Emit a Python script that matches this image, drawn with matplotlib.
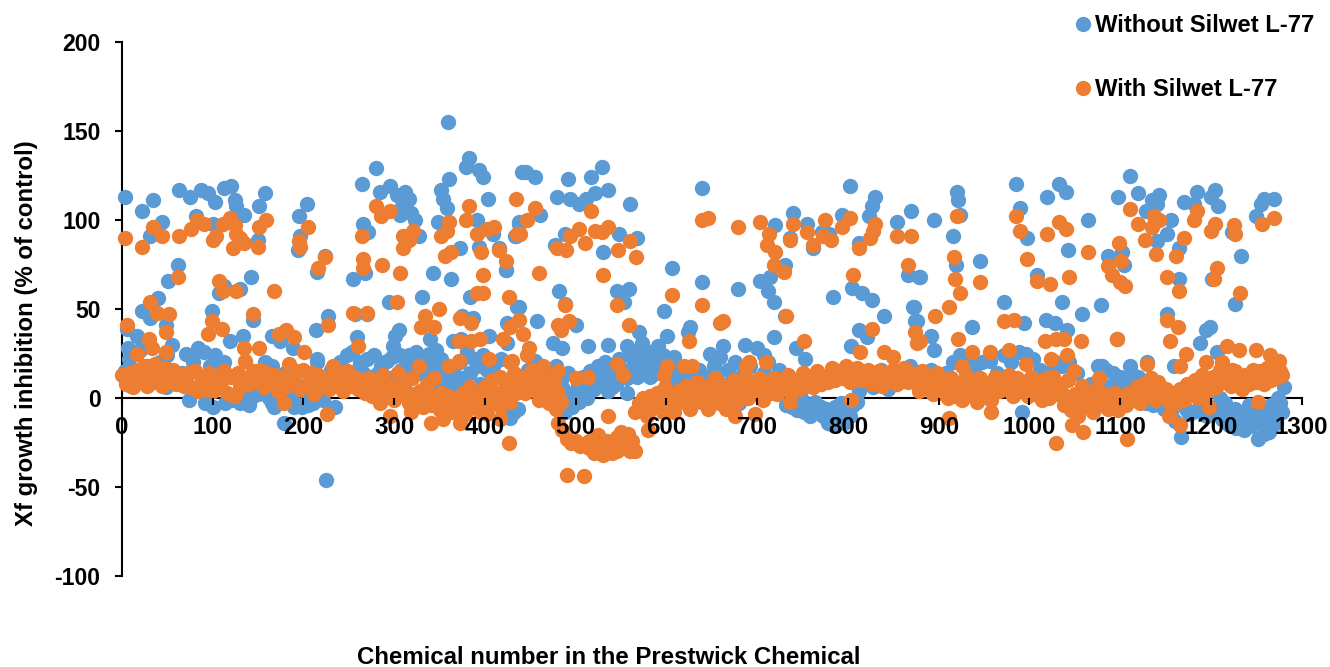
import matplotlib
matplotlib.use("Agg")
import matplotlib.pyplot as plt
from matplotlib.lines import Line2D

plt.rcParams['font.family'] = ['Liberation Sans', 'DejaVu Sans']
plt.rcParams['font.weight'] = 'bold'
plt.rcParams['axes.unicode_minus'] = False

SERIES_BLUE = "Without Silwet L-77"
SERIES_ORANGE = "With Silwet L-77"
X_LABEL = "Chemical number in the Prestwick Chemical"
Y_LABEL = "Xf growth inhibition (% of control)"
x_ticks = [0,100,200,300,400,500,600,700,800,900,1000,1100,1200,1300]
y_ticks = [-100,-50,0,50,100,150,200]

blue_scattered_a = [(3,113),(22,105),(34,111),(44,99),(31,91),(63,117),(75,113),(87,117),(95,115),(102,110),(112,118),(120,119),(124,111),(126,108),(134,103),(158,115),(151,108),(150,89),(82,102),(100,98),(195,102),(204,109),(196,91),(194,83),(224,80),(215,71),
(62,75),(51,66),(40,56),(22,49),(31,45),(49,41),(5,39),(16,35),(7,28),(55,30),(20,27),(99,49),(107,59),(112,63),(130,61),(142,68),(144,44),(119,32),(133,35),(165,35),(174,32),(188,28),(214,38),(227,46),(215,22),(257,47),(270,47),(259,34),(255,67),(268,70),(271,93),(266,98),(264,120),(280,129),(284,116),(295,119),(303,114),(312,116),(316,112),(308,107),(306,103),(319,104),(323,100),(327,91),(343,70),(363,67),(331,57),(294,54),(305,38),(301,35),(299,29),(339,33),(351,117),(354,112),(358,107),(360,123),(359,155),(348,99),(373,84),(379,130),(382,135),(393,128),(398,124),(403,112),(391,100),(393,85),(409,92),(415,84),(423,72),(433,91),(437,98),(441,127),(384,57),(375,46),(387,45),(365,32),(374,33),(404,35),(435,51),(424,31),(424,42)]
blue_scattered_b = [(445,127),(455,124),(461,103),(434,91),(438,99),(437,51),(457,43),(423,72),(482,60),(479,113),(492,123),(494,112),(504,109),(511,112),(517,124),(521,115),(529,130),(536,117),(560,109),(488,92),(477,86),(548,92),(567,90),(530,82),(545,60),(559,61),(553,54),(488,53),(500,41),(475,31),(485,28),(513,29),(536,30),(556,29),(570,37),(573,31),(591,29),(582,26),(606,73),(597,49),(601,35),(626,40),(624,37),(608,23),(639,118),(639,65),(679,61),(648,25),(662,29),(659,23),(686,30),(700,28),(707,24),(720,97),(739,104),(736,90),(755,98),(761,84),(779,92),(771,93),(793,103),(802,119),(830,113),(827,108),(823,102),(812,87),(854,99),(869,105),(866,69),(878,68),(703,66),(714,68),(712,60),(718,54),(731,75),(731,46),(719,34),(743,28),(753,22),(784,57),(804,62),(815,59),(826,55),(840,46),(812,38),(821,34),(803,29),(872,51),(874,43)]
blue_scattered_c = [(895,100),(920,116),(921,111),(924,103),(916,91),(919,75),(945,77),(879,68),(873,51),(876,43),(891,35),(895,27),(972,54),(994,42),(937,40),(985,120),(990,107),(997,90),(1008,69),(1019,113),(1032,120),(1040,116),(1043,83),(1064,100),(1036,54),(1058,47),(1079,52),(1018,44),(1028,42),(1041,38),(1087,80),(1102,82),(1104,75),(1098,113),(1111,125),(1120,115),(1128,105),(1135,111),(1143,114),(1141,109),(1156,100),(1152,92),(1140,88),(1165,84),(1170,110),(1185,116),(1181,109),(1200,113),(1204,117),(1208,108),(1152,47),(1165,67),(1097,33),(1188,31),(1194,38),(1199,40),(1201,67),(1223,93),(1233,80),(1227,53),(1250,102),(1255,109),(1258,112),(1270,112),(1159,18),(1111,18),(1130,20),(1080,18),(1207,26),(225,-46),(167,-5),(178,-14),(165,-3),(190,-5),(205,-4),(235,-5),(992,-8),(1167,-22)]
blue_band_a = [(3,15),(8,22),(14,12),(20,27),(27,18),(35,10),(42,20),(50,24),(58,12),(70,25),(78,20),(84,28),(90,26),(97,18),(102,24),(108,14),(112,20),(120,-1),(128,3),(136,1),(142,0),(150,2),(158,20),(165,18),(172,7),(180,14),(190,-2),(198,-5),(210,-3),(215,20),(222,-1),(230,16),(240,20),(248,24),(254,26),(262,20),(270,22),(278,24),(285,18),(292,21),(300,12),(308,16),(316,24),(324,26),(330,21),(338,25),(346,27),(352,22),(358,12),(365,16),(372,20),(380,26),(388,22),(395,8),(402,16),(410,19),(418,22),(425,-3),(432,-8),(440,10),(447,16),(455,21),(462,12),(470,0),(478,18),(484,10),(490,2),(496,0),(502,8)]
blue_band_b = [(486,5),(492,14),(498,3),(504,-2),(508,12),(512,0),(516,15),(520,5),(524,18),(528,8),(532,20),(536,4),(540,14),(544,8),(548,22),(552,16),(556,11),(560,24),(565,15),(570,26),(576,18),(582,12),(588,22),(594,16),(600,6),(608,10),(616,14),(625,6),(636,16),(644,12),(652,18),(660,8),(668,16),(676,20),(684,14),(692,18),(700,10),(708,14),(716,10),(724,16),(732,-4),(740,-3),(748,0),(754,-4),(760,-7),(766,-5),(772,-10),(778,-14),(784,-15),(790,-12),(796,-14),(802,-10),(806,-4),(790,-6),(776,-6),(764,-2)]
blue_band_c = [(812,4),(820,10),(828,6),(836,16),(844,5),(852,8),(860,10),(868,18),(876,12),(884,14),(892,16),(900,12),(908,14),(916,20),(924,24),(932,22),(940,18),(948,20),(956,21),(964,14),(972,24),(980,20),(988,26),(996,25),(1004,22),(1012,16),(1020,14),(1028,20),(1036,18),(1044,20),(1052,14),(1060,6),(1068,8),(1076,18),(1084,16),(1092,14),(1100,12),(1108,10),(1116,8),(1124,6),(1132,4),(1140,2),(1148,-6),(1156,-8),(1164,-2),(1172,-6),(1180,-8),(1188,-4),(1196,-10),(1204,-5),(1212,-12),(1220,-15),(1228,-17),(1236,-18),(1244,-16),(1252,-23),(1258,-20),(1264,-19),(1270,-10),(1276,-3),(1280,6),(1216,-3),(1226,-6),(1234,-9),(1248,-10),(1262,-7),(1272,-14),(1242,-4),(1210,0)]
blue_band_extra = [(10,7),(30,8),(48,6),(66,14),(88,10),(74,-1),(92,-3),(100,-5),(114,-3),(130,-3),(140,-4),(162,0),(186,3),(205,1),(225,9),(238,12),(246,16),(258,15),(266,14),(274,12),(282,14),(290,11),(298,23),(306,24),(314,17),(322,18),(330,14),(336,18),(344,20),(350,14),(342,9),(356,7),(362,5),(368,9),(376,11),(384,14),(392,18),(398,24),(406,9),(414,-2),(420,-8),(428,-11),(436,-6),(444,4),(452,9),(460,3),(468,10),(476,6),(488,-8),(496,-5),(504,6),(512,8),(520,12),(528,14),(532,10),(540,6),(548,14),(556,3),(564,20),(568,12),(574,24),(580,20),(590,14),(596,24),(604,18),(612,5),(620,2),(630,12),(640,8),(656,14),(672,10),(680,-3),(694,6),(712,20),(726,5),(738,-5),(744,-7),(752,-8),(758,-10),(770,-5),(780,-8),(786,-5),(792,-3),(798,-6),(804,-3),(810,-2),(1050,-2),(1062,-3),(1080,8),(1090,6),(1098,4),(1106,2),(1112,14),(1120,12),(1128,-3),(1136,-4),(1146,4),(1154,0),(1160,-13),(1176,-9),(1192,-9),(1208,-9),(1214,-6),(1222,-8),(1230,-12),(1238,-10),(1246,-6),(1254,-14),(1260,-12),(1266,-4),(1274,0),(1278,-8)]

orange_scattered_a = [(3,90),(22,85),(34,96),(44,91),(31,54),(39,48),(52,47),(62,68),(63,91),(76,95),(83,100),(90,98),(100,89),(104,91),(111,98),(119,101),(124,97),(126,92),(122,84),(134,87),(130,90),(107,66),(111,60),(126,60),(144,47),(150,85),(151,96),(159,100),(167,60),(99,43),(110,39),(95,36),(49,37),(6,41),(30,33),(33,28),(16,25),(49,26),(134,28),(151,28),(173,36),(181,38),(190,34),(201,26),(195,88),(196,85),(205,96),(216,73),(224,79),(227,41),(255,48),(270,48),(260,29),(264,91),(266,78),(266,73),(287,75),(280,108),(285,102),(295,105),(306,70),(303,54),(310,91),(316,89),(321,94),(310,84),(349,50),(334,46),(330,40),(344,40),(360,99),(352,91),(358,94),(356,80),(363,82),(373,45),(385,42),(371,32),(385,32),(395,33),(382,108),(379,100),(391,92),(402,95),(410,96),(396,82),(415,83),(423,77),(398,69),(391,59),(398,59),(426,57),(420,33),(434,112),(435,92),(427,-25),(226,-9),(178,-3),(360,18),(371,21),(327,18),(404,22),(428,20)]
orange_scattered_b = [(455,107),(446,100),(439,92),(460,70),(437,44),(428,40),(442,36),(448,28),(446,24),(430,21),(517,105),(504,95),(494,91),(479,84),(489,83),(510,87),(521,94),(529,93),(536,96),(547,83),(560,88),(566,79),(530,69),(545,52),(488,52),(493,43),(480,41),(484,38),(559,41),(625,32),(606,58),(639,52),(662,43),(659,42),(639,100),(646,101),(679,96),(703,99),(713,92),(711,86),(720,82),(718,75),(730,71),(732,46),(739,98),(736,89),(755,93),(761,86),(775,100),(773,91),(781,89),(793,96),(802,101),(806,69),(812,84),(830,98),(828,94),(824,90),(826,39),(813,26),(752,32),(710,20),(840,26),(850,23),(854,91),(870,91),(866,75),(874,37),(876,31),(545,19),(552,13),(500,11),(513,12),(601,18),(597,13),(619,18),(628,18),(691,20),(688,18),(490,-43),(509,-44),(536,-10),(580,-18),(481,-14),(698,-9),(676,-10),(736,-2),(803,-1)]
orange_trough = [(485,-18),(490,-23),(495,-25),(500,-24),(505,-27),(510,-26),(515,-28),(520,-31),(525,-29),(530,-32),(535,-28),(540,-31),(545,-30),(550,-25),(555,-21),(560,-30),(565,-30),(525,-21),(535,-24),(545,-22),(550,-19),(558,-20),(562,-24),(515,-24)]
orange_scattered_c = [(920,102),(917,79),(918,67),(923,59),(945,65),(911,51),(896,46),(879,32),(921,33),(937,26),(957,26),(978,27),(996,19),(972,43),(983,44),(985,102),(990,94),(997,78),(1008,66),(1023,64),(1019,92),(1032,99),(1040,95),(1044,68),(1064,82),(1099,87),(1101,77),(1087,74),(1091,69),(1100,65),(1105,63),(1111,106),(1120,98),(1127,89),(1137,102),(1143,100),(1135,96),(1139,81),(1152,68),(1161,80),(1170,90),(1165,60),(1152,44),(1164,40),(1155,32),(1097,33),(1185,105),(1181,100),(1200,94),(1204,98),(1207,73),(1203,67),(1225,97),(1227,92),(1232,59),(1256,98),(1270,101),(1218,29),(1231,27),(1250,27),(1265,24),(1275,21),(1173,25),(1130,19),(1077,11),(1049,15),(1017,32),(1029,33),(1038,33),(1041,24),(1057,32),(1024,22),(926,18),(1166,18),(1194,20),(1212,20),(1223,16),(1029,-25),(1108,-23),(1059,-19),(1047,-15),(911,-11),(958,-8),(1166,-15),(1252,-2),(1198,-5),(1154,-10),(340,-14),(295,-10),(318,-8),(372,-14),(402,-9),(417,-12)]
orange_band_a = [(0,13),(4,8),(8,14),(12,6),(16,16),(20,9),(24,18),(28,7),(32,14),(36,19),(40,11),(44,7),(48,17),(52,10),(56,16),(60,8),(64,12),(68,7),(72,14),(76,6),(80,15),(84,4),(88,12),(92,5),(96,14),(100,4),(104,11),(108,7),(112,15),(116,3),(120,12),(124,1),(128,14),(132,10),(136,21),(140,8),(144,15),(148,9),(152,16),(156,6),(160,14),(164,8),(168,13),(172,4),(176,12),(180,6),(184,19),(188,9),(192,15),(196,5),(200,16),(204,8),(208,14),(212,2),(216,13),(220,7),(224,11),(228,5),(232,18),(236,8),(240,14),(244,4),(248,15),(252,7),(256,12),(260,5),(264,10),(268,3),(272,11),(276,1),(280,8),(284,-3),(288,13),(292,3),(296,7),(300,-1),(304,14),(308,2),(312,9),(316,-3),(320,11),(324,1),(328,4),(332,-5),(336,8),(340,-4),(344,11),(348,-1),(352,3),(356,-6),(360,1),(364,-8),(368,-2),(372,-5),(376,3),(380,-3),(384,6),(388,-5),(392,1),(396,-2),(400,6),(404,-4),(408,10),(412,-3),(416,12),(420,4),(424,8),(428,-2),(432,14),(436,7),(440,12),(444,3),(448,10),(452,16),(456,5),(460,13),(464,18),(468,6),(472,12),(476,9),(480,15),(484,-2),(478,-6),(470,-3),(460,-1),(480,3)]
orange_band_b = [(565,-8),(570,-3),(574,0),(578,-10),(582,1),(586,-4),(590,3),(594,-2),(598,6),(602,-5),(606,1),(610,-3),(614,4),(618,-1),(622,7),(626,-6),(630,3),(634,9),(638,-2),(642,6),(646,-6),(650,4),(654,11),(658,-3),(662,7),(666,-6),(670,2),(674,10),(678,-2),(682,7),(686,12),(690,0),(694,8),(698,2),(702,11),(706,-1),(710,9),(714,3),(718,11),(722,2),(726,9),(730,5),(734,13),(738,3),(742,10),(746,5),(750,14),(754,7),(758,11),(762,6),(766,15),(770,8),(774,12),(778,9),(782,17),(786,10),(790,15),(794,11),(798,18),(802,9),(806,14),(810,17),(814,10),(818,13),(822,16),(826,8),(830,12),(834,15),(838,7),(842,14),(846,10),(850,16),(854,8),(858,13),(862,17),(866,9),(870,14)]
orange_band_c = [(874,10),(878,4),(882,15),(886,6),(890,12),(894,2),(898,14),(902,3),(906,10),(910,0),(914,11),(918,1),(922,8),(926,-1),(930,13),(934,2),(938,9),(942,-2),(946,11),(950,3),(954,8),(958,-1),(962,12),(966,4),(970,10),(974,5),(978,13),(982,1),(986,11),(990,6),(994,9),(998,1),(1002,12),(1006,2),(1010,9),(1014,-1),(1018,11),(1022,0),(1026,12),(1030,2),(1034,8),(1038,-4),(1042,10),(1046,-7),(1050,2),(1054,-10),(1058,7),(1062,-5),(1066,-1),(1070,-8),(1074,5),(1078,-4),(1082,2),(1086,-6),(1090,-3),(1094,3),(1098,-7),(1102,1),(1106,-4),(1110,3),(1114,-1),(1118,6),(1122,-3),(1126,8),(1130,2),(1134,11),(1138,-1),(1142,9),(1146,1),(1150,5),(1154,-2),(1158,3),(1162,-3),(1166,5),(1170,-1),(1174,8),(1178,2),(1182,10),(1186,0),(1190,13),(1194,3),(1198,8),(1202,12),(1206,6),(1210,16),(1214,9),(1218,11),(1222,7),(1226,15),(1230,10),(1234,5),(1238,13),(1242,8),(1246,16),(1250,9),(1254,15),(1258,8),(1262,17),(1266,10),(1270,15),(1274,12),(1278,13)]
orange_band_extra = [(30,11),(70,10),(90,8),(110,10),(130,6),(146,12),(170,9),(190,12),(210,9),(230,11),(250,10),(262,8),(274,5),(286,4),(298,3),(306,6),(318,2),(330,-1),(342,1),(350,-7),(354,-12),(362,-4),(370,-8),(378,-9),(386,-1),(394,-8),(402,1),(410,3),(418,-5),(426,5),(434,3),(442,8),(450,6),(458,9),(466,11),(474,2),(582,-7),(596,-8),(608,-8),(622,-3),(636,3),(648,-2),(660,2),(672,-4),(684,3),(696,6),(708,4),(720,6),(732,8),(744,8),(756,9),(768,11),(780,13),(792,13),(804,12),(816,12),(828,11),(840,11),(852,12),(864,13),(880,8),(892,7),(904,6),(916,5),(928,6),(940,5),(952,6),(964,8),(976,9),(988,8),(1000,7),(1012,5),(1024,6),(1036,3),(1048,-3),(1060,1),(1072,-2),(1084,-1),(1096,-2),(1108,0),(1120,2),(1132,6),(1144,5),(1156,2),(1168,3),(1180,6),(1192,8),(1204,9),(1216,13),(1228,12),(1240,10),(1252,12),(1264,13),(1276,15)]

blue_series = blue_scattered_a + blue_scattered_b + blue_scattered_c + blue_band_a + blue_band_b + blue_band_c + blue_band_extra
orange_series = orange_scattered_a + orange_scattered_b + orange_trough + orange_scattered_c + orange_band_a + orange_band_b + orange_band_c + orange_band_extra

fig = plt.figure(figsize=(13.3, 6.67), dpi=100)
ax = fig.add_axes([122/1330, (667-576)/667, (1301.7-122)/1330, (576-42)/667])
ax.set_xlim(0, 1300)
ax.set_ylim(-100, 200)
ax.patch.set_alpha(0)

C_BLUE = '#5B9BD5'
C_ORANGE = '#ED7D31'
MS = 122
for pts, c, z in ((blue_series, C_BLUE, 3), (orange_series, C_ORANGE, 4)):
    ax.scatter([p[0] for p in pts], [p[1] for p in pts], s=MS, color=c, linewidths=0, zorder=z, clip_on=False)

for s in ('top', 'right'):
    ax.spines[s].set_visible(False)
ax.spines['bottom'].set_position(('data', 0))
ax.spines['left'].set_linewidth(1.5)
ax.spines['bottom'].set_linewidth(1.5)
ax.set_xticks(x_ticks)
ax.set_yticks(y_ticks)
ax.tick_params(axis='both', direction='out', length=5, width=1.5)
ax.tick_params(axis='x', pad=8, labelsize=17.3)
ax.tick_params(axis='y', pad=10.5, labelsize=16.6)
ax.xaxis.set_zorder(5)

fig.text(609/1330, 1-658/667, X_LABEL, ha='center', va='center', fontsize=17.3, fontweight='bold')
fig.text(27/1330, 1-333/667, Y_LABEL, ha='center', va='center', rotation=90, fontsize=17.3, fontweight='bold')

handles = [Line2D([], [], ls='', marker='o', ms=11, color=C_BLUE, mew=0),
           Line2D([], [], ls='', marker='o', ms=11, color=C_ORANGE, mew=0)]
leg = fig.legend(handles, [SERIES_BLUE, SERIES_ORANGE], loc='upper left', bbox_to_anchor=(1071/1330, 1-14/667),
                 frameon=False, prop={'family': 'Liberation Sans', 'weight': 'bold', 'size': 17.2},
                 labelspacing=1.72, handletextpad=0.0, borderpad=0, borderaxespad=0, handlelength=1.0)

fig.savefig('out.png', dpi=100)
